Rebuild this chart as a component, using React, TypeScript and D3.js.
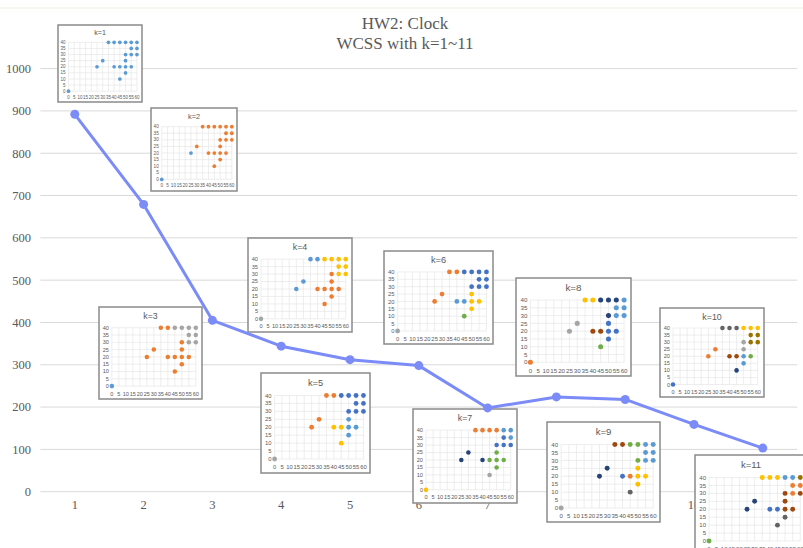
import React from "react";
import * as d3 from "d3";

// main chart data
const kLabels = ["1", "2", "3", "4", "5", "6", "7", "8", "9", "10", "11"];
const wcss = [892, 679, 405, 344, 312, 298, 198, 224, 218, 159, 103];
const yTicks = [0, 100, 200, 300, 400, 500, 600, 700, 800, 900, 1000];

// clock points used in every inset
const clockX = [0, 25, 30, 35, 40, 45, 50, 55, 60, 55, 60, 50, 55, 60, 50, 40, 45, 50, 55, 50, 45];
const clockY = [0, 20, 25, 40, 40, 40, 40, 40, 40, 35, 35, 30, 30, 30, 25, 20, 20, 20, 20, 15, 10];
const insetXTicks = d3.range(0, 61, 5);
const insetYTicks = d3.range(0, 41, 5);

// cluster colour code per point, one string per k
const clusterCodes = [
  "BBBBBBBBBBBBBBBBBBBBB",
  "BBOOOOOOOOOOOOOOOOOOO",
  "BOOOOGGGGGGOGGOOOOOOO",
  "GBBBBYYYYYYOYYOOOOOOO",
  "GOOOODDDDDDDDDBYYBBBY",
  "GOOOODDDDDDDDDYBBYYYE",
  "YNNOOOOBBDBDDDENEEEEG",
  "OGGYYNNNBBBNBBDRRDDDE",
  "GNNRREEBBBBEBBYDOYYYK",
  "DOOKKKYYYLLGLLGRRBEBN",
  "ENNYYYBBLOORORRDDRRKK",
];

const palette: Record<string, string> = {
  B: "#5B9BD5",
  O: "#ED7D31",
  G: "#A5A5A5",
  Y: "#FFC000",
  D: "#4472C4",
  E: "#70AD47",
  N: "#264478",
  R: "#9E480E",
  K: "#636363",
  L: "#997300",
};

// inset picture boxes [x, y, w, h]
const insetBoxes = [
  [58, 25, 84, 77],
  [151, 108, 86, 83],
  [99, 307, 103, 92],
  [248, 238, 104, 94],
  [261, 373, 109, 100],
  [384, 251, 109, 93],
  [413, 409, 104, 94],
  [516, 278, 115, 98],
  [547, 422, 113, 100],
  [660, 308, 104, 89],
  [695, 455, 112, 100],
];

const W = 803;
const H = 548;
const textCol = "#595959";
const narrow = "Liberation Sans Narrow, Arial Narrow, Liberation Sans, sans-serif";

function Inset({ k, box }: { k: number; box: number[] }) {
  const [bx, by, w, h] = box;
  const xs = d3.scaleLinear().domain([0, 60]).range([bx + 0.125 * w, bx + 0.94 * w]);
  const ys = d3.scaleLinear().domain([0, 40]).range([by + 0.86 * h, by + 0.225 * h]);
  const fs = w * 0.054;
  const r = w * 0.022;
  const codes = clusterCodes[k - 1];
  return (
    <g>
      <rect x={bx} y={by} width={w} height={h} fill="#fff" stroke="#8a8a8a" strokeWidth={1.5} />
      <text x={bx + w / 2} y={by + 0.13 * h} textAnchor="middle" fontSize={w * 0.085}
        fontFamily="Liberation Sans, Arial, sans-serif" fill={textCol}>k={k}</text>
      {insetXTicks.map((t) => (
        <line key={"vx" + t} x1={xs(t)} x2={xs(t)} y1={ys(0)} y2={ys(40)} stroke="#e3e3e3" strokeWidth={0.6} />
      ))}
      {insetYTicks.map((t) => (
        <line key={"hy" + t} x1={xs(0)} x2={xs(60)} y1={ys(t)} y2={ys(t)} stroke="#e3e3e3" strokeWidth={0.6} />
      ))}
      {insetYTicks.map((t) => (
        <text key={"ty" + t} x={xs(0) - 3} y={ys(t)} dy="0.35em" textAnchor="end" fontSize={fs}
          fontFamily={narrow} fill={textCol}>{t}</text>
      ))}
      {insetXTicks.map((t) => (
        <text key={"tx" + t} x={xs(t)} y={ys(0) + fs * 1.7} textAnchor="middle" fontSize={fs}
          fontFamily={narrow} fill={textCol}>{t}</text>
      ))}
      {clockX.map((px, i) => (
        <circle key={"p" + i} cx={xs(px)} cy={ys(clockY[i])} r={r} fill={palette[codes[i]]} />
      ))}
    </g>
  );
}

export default function App() {
  const x = d3.scalePoint<string>().domain(kLabels).range([40.4, 797.2]).padding(0.5);
  const y = d3.scaleLinear().domain([0, 1000]).range([491.7, 68.6]);
  const line = d3
    .line<number>()
    .x((_, i) => x(kLabels[i]) as number)
    .y((d) => y(d));

  return (
    <svg width={W} height={H} style={{ position: "absolute", left: 0, top: 0, background: "#fff" }}>
      <rect width={W} height={H} fill="#fff" />
      <line x1={0} x2={W} y1={8} y2={8} stroke="#f3ebe2" strokeWidth={1} />
      {yTicks.map((t) => (
        <g key={t}>
          <line x1={40.4} x2={797.2} y1={y(t)} y2={y(t)} stroke="#d9d9d9" strokeWidth={1} />
          <text x={31} y={y(t)} dy="0.35em" textAnchor="end" fontSize={12.5}
            fontFamily="Liberation Serif, Times New Roman, serif" fill={textCol}>{t}</text>
        </g>
      ))}
      {kLabels.map((k) => (
        <text key={k} x={x(k)} y={509} textAnchor="middle" fontSize={12.5}
          fontFamily="Liberation Serif, Times New Roman, serif" fill={textCol}>{k}</text>
      ))}
      <text x={405} y={29} textAnchor="middle" fontSize={17}
        fontFamily="Liberation Serif, Times New Roman, serif" fill={textCol}>HW2: Clock</text>
      <text x={405} y={48.5} textAnchor="middle" fontSize={17}
        fontFamily="Liberation Serif, Times New Roman, serif" fill={textCol}>WCSS with k=1~11</text>
      {insetBoxes.map((b, i) => (
        <Inset key={i} k={i + 1} box={b} />
      ))}
      <path d={line(wcss) || ""} fill="none" stroke="#7B8BF7" strokeWidth={3} strokeLinejoin="round" />
      {wcss.map((v, i) => (
        <circle key={i} cx={x(kLabels[i])} cy={y(v)} r={4.5} fill="#7B8BF7" />
      ))}
    </svg>
  );
}
